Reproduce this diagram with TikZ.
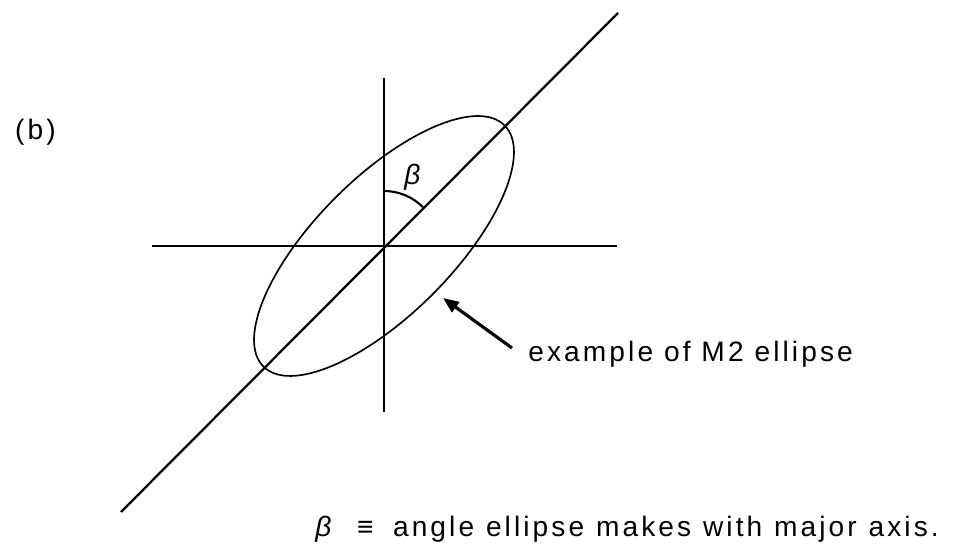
\documentclass[tikz,border=0pt]{standalone}
\usepackage{fontspec}
\setmainfont{Liberation Sans}[LetterSpace=11]
\usetikzlibrary{arrows.meta}
\tikzset{axisline/.style={line width=1.5pt},
  lbl/.style={font=\fontsize{16}{19}\selectfont,inner sep=0pt}}

\begin{document}
\begin{tikzpicture}
\useasboundingbox(-7.68,-6.06)rectangle(11.46,4.92);
\coordinate(O)at(0,0);
\draw[axisline](0,3.36)--(0,-3.32);\draw[axisline](-4.64,0)--(4.66,0);
\draw[line width=1.3pt](-5.26,-5.32)--(4.68,4.66);
\draw[line width=.95pt,rotate=45](O)ellipse(3.41 and 1.37);
\draw[line width=1.2pt](0,1.1)arc(90:45:1.1);
\node[lbl](beta)at(.6,1.38){\textit{β}};
\node[lbl,anchor=base east](part)at(-6.56,2.12){(b)};
\node[lbl,anchor=base west](note)at(2.88,-2.32){example of M2 ellipse};
\coordinate(tail)at(2.56,-2.04);\coordinate(tip)at(1.18,-1.04);
\draw[line width=1.8pt,-{Triangle[length=9pt,width=7pt]}](tail)--(tip);
\node[lbl,anchor=base west](key)at(-1.38,-5.82){\spaceskip=.42em\textit{β}\hspace{.8em}≡\hspace{.7em}angle ellipse makes with major axis.};
\end{tikzpicture}
\end{document}
